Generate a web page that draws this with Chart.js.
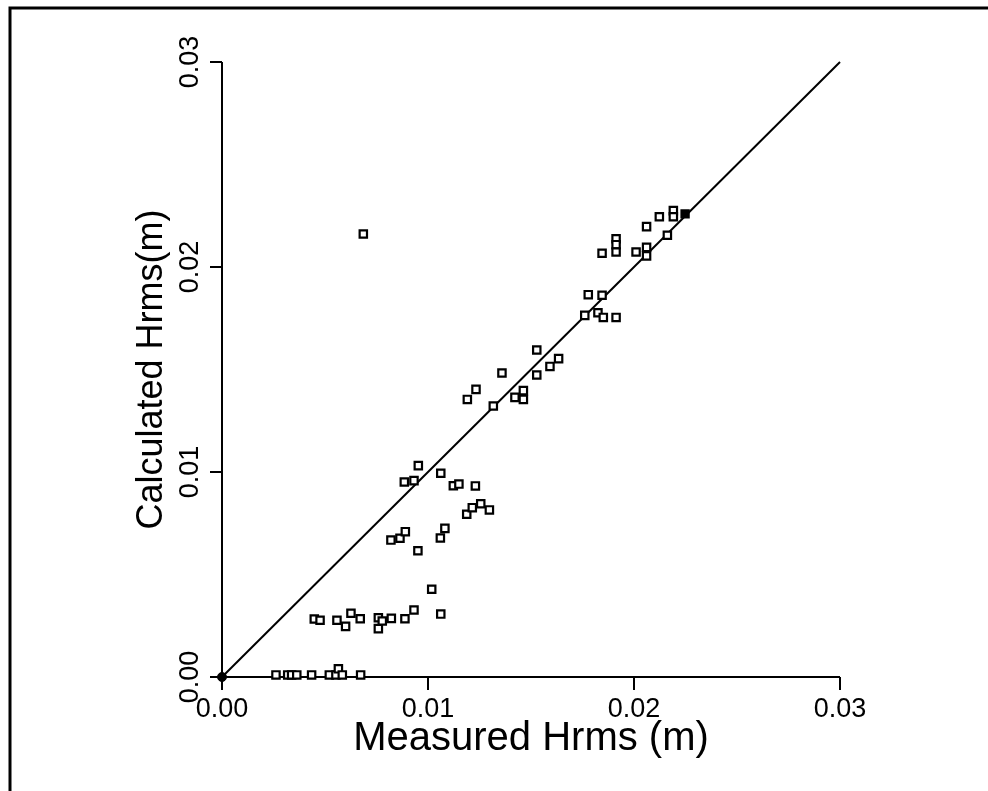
<!DOCTYPE html>
<html><head><meta charset="utf-8">
<script src="https://cdn.jsdelivr.net/npm/chart.js@4.4.1/dist/chart.umd.min.js"></script>
<style>html,body{margin:0;padding:0;background:#fff}#wrap{width:988px;height:791px;position:relative}canvas{display:block}</style>
</head><body><div id="wrap"><canvas id="c" width="988" height="791"></canvas></div>
<script>
// Measured Hrms (x) and Calculated Hrms (y), metres
const measured = [
  0.00262, 0.00319, 0.00338, 0.00363, 0.00435, 0.00521, 0.00553, 0.00565, 0.00584, 0.00673,
  0.00448, 0.00476, 0.00558, 0.00600, 0.00626, 0.00671, 0.00759, 0.00759, 0.00778, 0.00822, 0.00888, 0.00932, 0.01018, 0.01062,
  0.00953, 0.00885, 0.00932, 0.01062, 0.01123, 0.01150, 0.01230, 0.01188, 0.01215, 0.01256, 0.01298,
  0.00820, 0.00864, 0.00890, 0.01060, 0.01082, 0.00951,
  0.01528, 0.01359, 0.01233, 0.01191, 0.01317, 0.01422, 0.01463, 0.01463, 0.01528, 0.01592, 0.01634,
  0.02191, 0.02191, 0.02123, 0.02061, 0.02162, 0.01913, 0.01913, 0.01913, 0.01845, 0.02010, 0.02061, 0.02061,
  0.01778, 0.01845, 0.01761, 0.01825, 0.01851, 0.01913,
  0.00686
];
const calculated = [
  0.0001, 0.0001, 0.0001, 0.0001, 0.0001, 0.0001, 0.0001, 0.0004, 0.0001, 0.0001,
  0.00283, 0.00277, 0.00277, 0.00247, 0.00311, 0.00284, 0.00289, 0.00236, 0.00273, 0.00286, 0.00284, 0.00327, 0.00428, 0.00307,
  0.01031, 0.00951, 0.00958, 0.00994, 0.00933, 0.00941, 0.00932, 0.00794, 0.00826, 0.00845, 0.00815,
  0.00668, 0.00677, 0.00709, 0.00678, 0.00725, 0.00616,
  0.01595, 0.01483, 0.01403, 0.01354, 0.01322, 0.01364, 0.01397, 0.01354, 0.01473, 0.01515, 0.01553,
  0.02275, 0.02245, 0.02245, 0.02197, 0.02155, 0.02138, 0.02109, 0.02073, 0.02067, 0.02073, 0.02096, 0.02054,
  0.01865, 0.01862, 0.01764, 0.01777, 0.01754, 0.01754,
  0.02161
];
const filledMeasured = [0.02248];
const filledCalculated = [0.02259];
const lineMeasured = [0, 0.03];
const lineCalculated = [0, 0.03];
const tickValues = [0, 0.01, 0.02, 0.03];
const tickLabels = ['0.00', '0.01', '0.02', '0.03'];
const xTitle = 'Measured Hrms (m)';
const yTitle = 'Calculated Hrms(m)';

const toPts = (xs, ys) => xs.map((x, i) => ({x, y: ys[i]}));

const axesPlugin = {
  id: 'axesPlugin',
  beforeDatasetsDraw(chart) {
    const ctx = chart.ctx, xs = chart.scales.x, ys = chart.scales.y;
    ctx.save();
    ctx.strokeStyle = '#000';
    // frame (top and left only)
    ctx.lineWidth = 3;
    ctx.beginPath();
    ctx.moveTo(10, 791); ctx.lineTo(10, 8); ctx.lineTo(988, 8);
    ctx.stroke();
    const x0 = xs.getPixelForValue(0), y0 = ys.getPixelForValue(0);
    const xMax = xs.getPixelForValue(0.03), yMax = ys.getPixelForValue(0.03);
    ctx.lineWidth = 2;
    ctx.beginPath();
    ctx.moveTo(x0 - 12, y0); ctx.lineTo(xMax, y0);
    ctx.moveTo(x0, y0 + 13); ctx.lineTo(x0, yMax);
    tickValues.forEach(v => {
      const px = xs.getPixelForValue(v), py = ys.getPixelForValue(v);
      ctx.moveTo(px, y0); ctx.lineTo(px, y0 + 13);
      ctx.moveTo(x0, py); ctx.lineTo(x0 - 12, py);
    });
    ctx.stroke();
    ctx.fillStyle = '#000';
    ctx.font = '27px "Liberation Sans"';
    ctx.textAlign = 'center';
    ctx.textBaseline = 'middle';
    tickValues.forEach((v, i) => {
      ctx.fillText(tickLabels[i], xs.getPixelForValue(v), y0 + 33);
      ctx.save();
      ctx.translate(x0 - 31, ys.getPixelForValue(v));
      ctx.rotate(-Math.PI / 2);
      ctx.fillText(tickLabels[i], 0, 0);
      ctx.restore();
    });
    ctx.font = '40px "Liberation Sans"';
    ctx.fillText(xTitle, (x0 + xMax) / 2, y0 + 62);
    ctx.font = '36px "Liberation Sans"';
    ctx.save();
    ctx.translate(x0 - 70, (y0 + yMax) / 2);
    ctx.rotate(-Math.PI / 2);
    ctx.fillText(yTitle, 0, 0);
    ctx.restore();
    ctx.restore();
  }
};

new Chart(document.getElementById('c'), {
  type: 'scatter',
  data: {
    datasets: [
      { type: 'line', data: toPts(lineMeasured, lineCalculated), borderColor: '#000', borderWidth: 2,
        pointRadius: 0, fill: false, clip: false, order: 3 },
      { data: toPts(measured, calculated), pointStyle: 'rect', pointRadius: 5.2,
        borderColor: '#000', backgroundColor: '#fff', pointBorderWidth: 2.2, clip: false, order: 1 },
      { data: toPts(filledMeasured, filledCalculated), pointStyle: 'rect', pointRadius: 5.2,
        borderColor: '#000', backgroundColor: '#000', pointBorderWidth: 2, clip: false, order: 0 },
      { data: toPts([0], [0]), pointStyle: 'circle', pointRadius: 4.5,
        borderColor: '#000', backgroundColor: '#000', pointBorderWidth: 1, clip: false, order: 0 }
    ]
  },
  options: {
    responsive: false, animation: false, devicePixelRatio: 1,
    layout: { padding: { left: 222, right: 148, top: 62, bottom: 114 } },
    plugins: { legend: { display: false }, tooltip: { enabled: false } },
    scales: {
      x: { type: 'linear', min: 0, max: 0.03, display: false },
      y: { type: 'linear', min: 0, max: 0.03, display: false }
    }
  },
  plugins: [axesPlugin]
});
</script></body></html>
